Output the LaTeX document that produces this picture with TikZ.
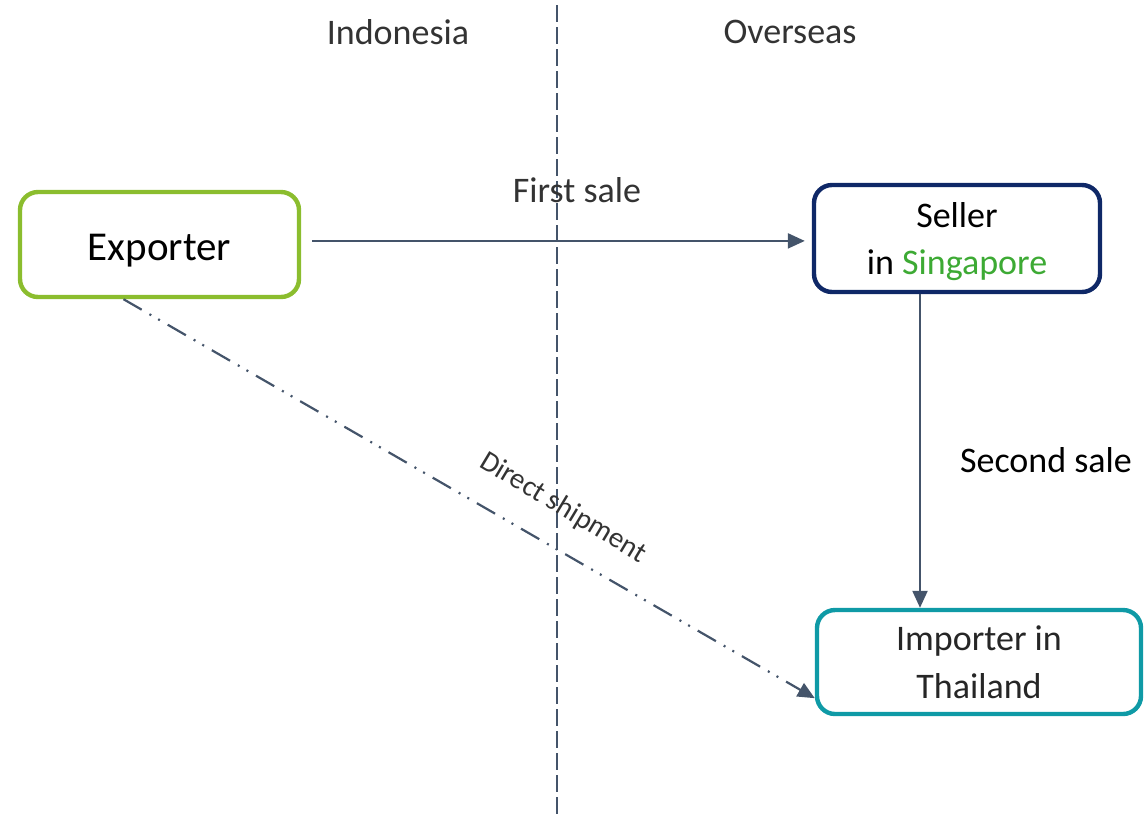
\documentclass[tikz,border=0pt]{standalone}
\usepackage{fontspec}
\setmainfont{Carlito}
\usetikzlibrary{calc,arrows.meta}
\definecolor{exgreen}{HTML}{8BBD2E}
\definecolor{selnavy}{HTML}{0F2867}
\definecolor{imteal}{HTML}{0F9AA6}
\definecolor{slate}{HTML}{44546A}
\definecolor{sggreen}{HTML}{3DAA34}
\definecolor{txtgray}{HTML}{333333}
\tikzset{
	party/.style={draw, line width=2.2pt, rounded corners=9pt, fill=white, align=center, inner sep=0pt},
	link/.style={slate, line width=1.1pt, -{Triangle[length=8.5pt,width=7.5pt]}},
	side/.style={txtgray, font=\fontsize{18}{22}\selectfont}
}

\begin{document}
\begin{tikzpicture}[x=0.5pt, y=-0.5pt]
			%%%%% START %%%%%
			\useasboundingbox (0, 0) rectangle (1145, 815);
			
			\draw[slate, line width=1pt, dash pattern=on 8.4pt off 2.6pt] (557, 5) -- (557, 815);
			
			\node[side] (indo) at (398, 32) {Indonesia};
			\node[side] (over) at (790, 32) {Overseas};
			
			\node[party, draw=exgreen, minimum width=139.5pt, minimum height=52.5pt,
				font=\fontsize{20.5}{24}\selectfont] (exporter) at (159.5, 244.5) {\raisebox{-3pt}[\height][\depth]{Exporter}};
			\node[party, draw=selnavy, minimum width=143pt, minimum height=53.5pt,
				font=\fontsize{18}{23.5}\selectfont] (seller) at (957, 238.5) {\raisebox{-1.5pt}[\height][\depth]{Seller}\\\raisebox{-1.5pt}[\height][\depth]{in \textcolor{sggreen}{Singapore}}};
			\node[party, draw=imteal, minimum width=162pt, minimum height=52pt, text=black!85,
				font=\fontsize{18}{24}\selectfont] (importer) at (979, 662) {Importer in\\Thailand};
			
			\draw[link, shorten <=5.5pt, shorten >=3.5pt] ([yshift=1.8pt]exporter.east) -- ([yshift=1.8pt]exporter.east -| seller.west);
			\node[side] (first) at (577, 190) {First sale};
			
			\draw[link] ([xshift=-18.5pt]seller.south) coordinate (sec) -- (sec |- importer.north);
			\node[font=\fontsize{18}{22}\selectfont] (second) at (1046, 460) {Second sale};
			
			\draw[link, dash pattern=on 10.5pt off 4.5pt on 1pt off 4pt on 1pt off 4.5pt]
				([xshift=-18pt]exporter.south) -- ([yshift=9pt]importer.south west);
			\node[txtgray, rotate=-31, font=\fontsize{14.5}{17}\selectfont] (direct) at (563, 508) {Direct shipment};
			%%%%% END %%%%%
		\end{tikzpicture}
\end{document}
